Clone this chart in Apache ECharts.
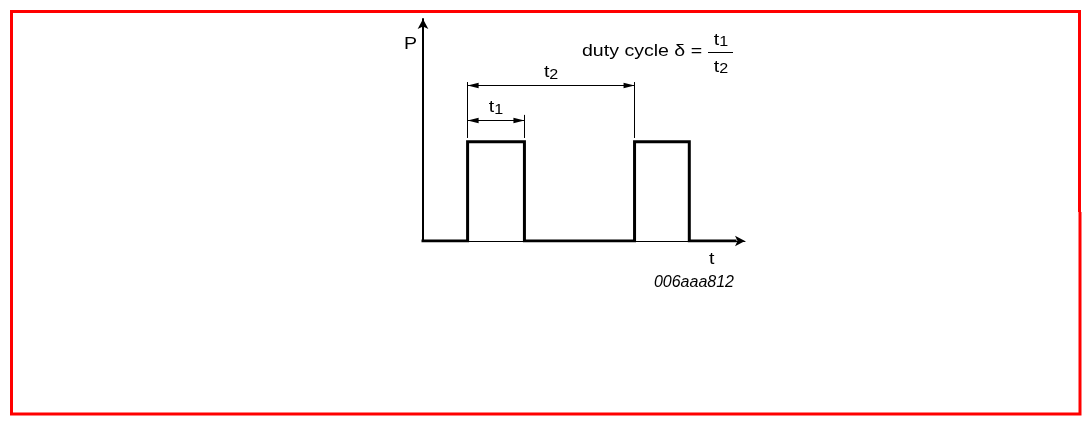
<!DOCTYPE html>
<html>
<head>
<meta charset="utf-8">
<script src="https://cdn.jsdelivr.net/npm/echarts@6/dist/echarts.min.js"></script>
<style>
html,body{margin:0;padding:0;background:#fff;}
#c{width:1091px;height:426px;}
</style>
</head>
<body>
<div id="c"></div>
<script>
// ---- data (time units on x, power units on y) ----
const signalT = [0, 13.85, 13.85, 31.5, 31.5, 65.7, 65.7, 82.7, 82.7, 96.9];
const signalP = [0, 0, 44.7, 44.7, 0, 0, 44.7, 44.7, 0, 0];
// dimension arrows: [start, end, level, label]
const dimStart = [13.85, 13.85];
const dimEnd = [31.5, 65.7];
const dimLevel = [54.5, 70.3];
const dimLabels = ['t1', 't2'];
// extension lines: t, from P, to P
const extT = [13.85, 31.5, 65.7];
const extFrom = [46.4, 46.4, 46.4];
const extTo = [71.6, 56.8, 71.6];
const axisNames = ['P', 't'];
const formulaText = 'duty cycle \u03b4 =';
const formulaNum = 't1';
const formulaDen = 't2';
const figureId = '006aaa812';

const FONT = '"Liberation Sans", Arial, Helvetica, sans-serif';
const SX = 1.15;
const rich = {
  t: {fontSize: 17, lineHeight: 18, verticalAlign: 'top', fontFamily: FONT, color: '#000'},
  s: {fontSize: 14, lineHeight: 14, padding: [6, 0, 0, 0], verticalAlign: 'bottom', fontFamily: FONT, color: '#000'}
};
const sub = (name) => '{t|' + name[0] + '}{s|' + name.slice(1) + '}';

const chart = echarts.init(document.getElementById('c'), null, {renderer: 'canvas'});

function renderDim(params, api) {
  const s = api.coord([api.value(0), api.value(2)]);
  const e = api.coord([api.value(1), api.value(2)]);
  const y = Math.round(s[1]) + 0.5;
  const L = 11, W = 2.8;
  const label = dimLabels[params.dataIndex];
  return {
    type: 'group',
    children: [
      {type: 'line', shape: {x1: s[0], y1: y, x2: e[0], y2: y}, style: {stroke: '#000', lineWidth: 1}},
      {type: 'polygon', shape: {points: [[s[0], y], [s[0] + L, y - W], [s[0] + L, y + W]]}, style: {fill: '#000'}},
      {type: 'polygon', shape: {points: [[e[0], y], [e[0] - L, y - W], [e[0] - L, y + W]]}, style: {fill: '#000'}},
      {type: 'text', x: (s[0] + e[0]) / 2, y: y - 3.5, scaleX: SX,
        style: {text: sub(label), rich: rich, align: 'center', verticalAlign: 'bottom'}}
    ]
  };
}

const option = {
  animation: false,
  backgroundColor: '#fff',
  grid: {left: 423, right: 346, top: 19, bottom: 185, containLabel: false},
  xAxis: {
    type: 'value', min: 0, max: 100,
    axisLine: {show: true, onZero: false, symbol: ['none', 'arrow'], symbolSize: [8, 10],
      lineStyle: {color: '#000', width: 1}},
    axisTick: {show: false}, axisLabel: {show: false}, splitLine: {show: false}
  },
  yAxis: {
    type: 'value', min: 0, max: 100,
    axisLine: {show: true, onZero: false, symbol: ['none', 'arrow'], symbolSize: [8, 10],
      lineStyle: {color: '#000', width: 2}},
    axisTick: {show: false}, axisLabel: {show: false}, splitLine: {show: false}
  },
  series: [
    {
      type: 'line', name: 'P',
      data: signalT.map((t, i) => [t, signalP[i]]),
      symbol: 'none', silent: true,
      lineStyle: {color: '#000', width: 3, join: 'miter', cap: 'square'},
      markLine: {
        silent: true, symbol: ['none', 'none'],
        lineStyle: {color: '#000', width: 1, type: 'solid'},
        label: {show: false},
        data: extT.map((t, i) => [{coord: [t, extFrom[i]]}, {coord: [t, extTo[i]]}])
      }
    },
    {
      type: 'custom', name: 'dims', silent: true,
      renderItem: renderDim,
      data: dimStart.map((s, i) => [s, dimEnd[i], dimLevel[i]])
    }
  ],
  graphic: [
    // border
    {type: 'polyline', silent: true, shape: {points: [[1079.5, 212], [1079.5, 11.5], [11.5, 11.5], [11.5, 414], [1080, 414], [1080, 212]]},
      style: {stroke: '#ff0000', lineWidth: 3, fill: null}},
    {type: 'text', x: 404, y: 44, scaleX: SX, style: {text: axisNames[0], font: '17px ' + FONT, fill: '#000', verticalAlign: 'middle'}},
    {type: 'text', x: 709, y: 259, scaleX: SX, style: {text: axisNames[1], font: '17px ' + FONT, fill: '#000', verticalAlign: 'middle'}},
    {type: 'text', x: 734, y: 282.5, style: {text: figureId, font: 'italic 16px ' + FONT, fill: '#000', align: 'right', verticalAlign: 'middle'}},
    {type: 'text', x: 582, y: 51, scaleX: SX, style: {text: formulaText, font: '17px ' + FONT, fill: '#000', verticalAlign: 'middle'}},
    {type: 'text', x: 721, y: 49.5, scaleX: SX, style: {text: sub(formulaNum), rich: rich, align: 'center', verticalAlign: 'bottom'}},
    {type: 'line', silent: true, shape: {x1: 708, y1: 52.5, x2: 733, y2: 52.5}, style: {stroke: '#000', lineWidth: 1}},
    {type: 'text', x: 721, y: 76.5, scaleX: SX, style: {text: sub(formulaDen), rich: rich, align: 'center', verticalAlign: 'bottom'}}
  ]
};
chart.setOption(option);
</script>
</body>
</html>
